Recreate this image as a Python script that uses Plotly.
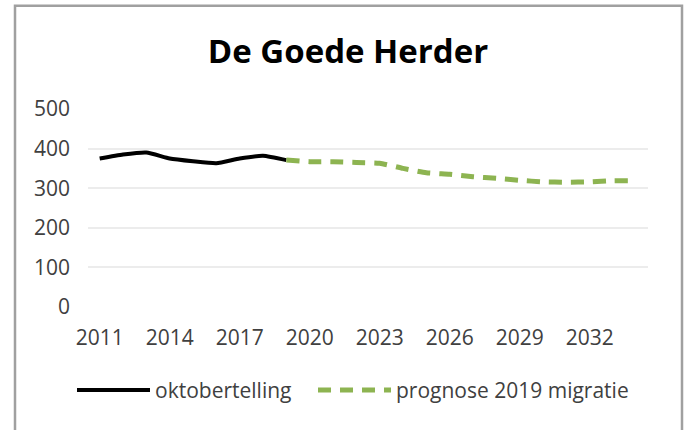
import plotly.graph_objects as go

years_obs = [2011, 2012, 2013, 2014, 2015, 2016, 2017, 2018, 2019]
okt_values = [375, 385, 390, 375, 368, 363, 375, 382, 371]

years_prog = [2019, 2020, 2021, 2022, 2023, 2024, 2025, 2026, 2027, 2028,
              2029, 2030, 2031, 2032, 2033, 2034]
prog_values = [371, 367, 367, 365, 363, 350, 339, 335, 329, 325,
               320, 316, 315, 316, 319, 319]

x_ticks = [2011, 2014, 2017, 2020, 2023, 2026, 2029, 2032]
y_ticks = [0, 100, 200, 300, 400, 500]

FONT = "Open Sans"
TXT = "#404040"

fig = go.Figure()
fig.add_trace(go.Scatter(
    x=years_obs, y=okt_values, mode="lines", name="oktobertelling", legend="legend",
    line=dict(color="#000000", width=4, shape="spline", smoothing=0.5),
))
fig.add_trace(go.Scatter(
    x=years_prog, y=prog_values, mode="lines", name="prognose 2019 migratie", legend="legend2",
    line=dict(color="#8db451", width=5, dash="13px,9px", shape="spline", smoothing=0.5),
))

# plot area geometry (px)
L, R, T, B = 88, 648, 109, 306.7
W, H = R - L, B - T

def px_x(x):
    return (x - L) / W

def px_y(y):
    return (B - y) / H

fig.add_shape(type="rect", xref="paper", yref="paper",
              x0=px_x(15), x1=px_x(682), y0=px_y(434), y1=px_y(6),
              line=dict(color="#a0a0a0", width=2.5), fillcolor="rgba(0,0,0,0)", layer="below")

leg_common = dict(orientation="h", xanchor="left", yanchor="middle", y=px_y(390),
                  font=dict(family=FONT, size=21, color=TXT), itemwidth=73,
                  bgcolor="rgba(0,0,0,0)")

fig.update_layout(
    width=687, height=430,
    margin=dict(l=L, r=687 - R, t=T, b=430 - B),
    paper_bgcolor="white", plot_bgcolor="white",
    title=dict(text="<b>De Goede Herder</b>", x=348 / 687, xanchor="center",
               y=1 - 51 / 430, yanchor="middle", yref="container",
               font=dict(family=FONT, size=33, color="#000000")),
    font=dict(family=FONT, size=21, color=TXT),
    showlegend=True,
    legend=dict(x=px_x(72), **leg_common),
    legend2=dict(x=px_x(313), **leg_common),
)
fig.update_xaxes(range=[2010.5, 2034.5], tickvals=x_ticks, ticktext=[str(v) for v in x_ticks],
                 showgrid=False, zeroline=False, showline=False, ticks="",
                 tickfont=dict(family=FONT, size=21, color=TXT), ticklabelstandoff=16)
fig.update_yaxes(range=[0, 500], tickvals=y_ticks, showgrid=True, gridcolor="#ececec", gridwidth=1.5,
                 zeroline=False, showline=False, ticks="",
                 tickfont=dict(family=FONT, size=21, color=TXT), ticklabelstandoff=17)

fig.write_html("out.html", config={"displayModeBar": False},
               post_script="document.body.style.margin='0';document.body.style.overflow='hidden';")
